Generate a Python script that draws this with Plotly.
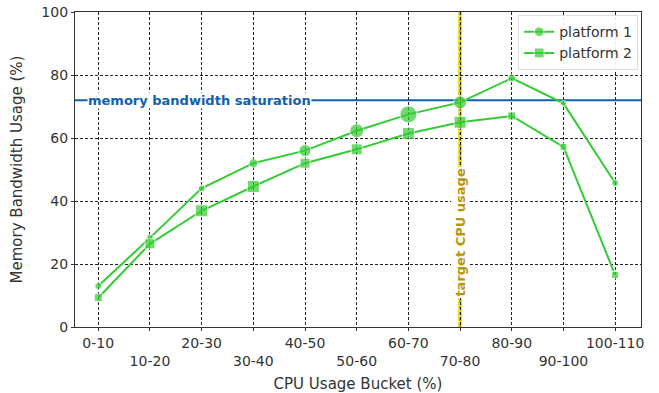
import plotly.graph_objects as go

categories = ["0-10", "10-20", "20-30", "30-40", "40-50", "50-60", "60-70",
              "70-80", "80-90", "90-100", "100-110"]
platform1 = [13.0, 28.3, 44.0, 52.0, 56.0, 62.3, 67.5, 71.3, 79.0, 71.0, 45.7]
platform2 = [9.3, 26.4, 36.9, 44.6, 52.0, 56.4, 61.4, 65.0, 67.0, 57.2, 16.5]
platform1_size = [7, 7, 7, 9, 12, 14, 17, 13, 8, 6, 7]
platform2_size = [8, 10, 12, 12, 10, 11, 12, 12, 8, 7, 7]
saturation = 72
target_idx = 7

x = list(range(len(categories)))
ticktext = [c if i % 2 == 0 else "<br>" + c for i, c in enumerate(categories)]

green = "#33cc33"
fig = go.Figure()
fig.add_trace(go.Scatter(x=x, y=platform1, mode="lines+markers", name="platform 1",
                         line=dict(color=green, width=2),
                         marker=dict(symbol="circle", size=platform1_size, color=green)))
fig.add_trace(go.Scatter(x=x, y=platform2, mode="lines+markers", name="platform 2",
                         line=dict(color=green, width=2),
                         marker=dict(symbol="square", size=platform2_size, color=green)))

# saturation line
fig.add_shape(type="line", xref="paper", x0=0, x1=1, yref="y", y0=saturation, y1=saturation,
              line=dict(color="#1060b0", width=2), layer="below")
fig.add_annotation(x=1.95, y=saturation, text="<b>memory bandwidth saturation</b>",
                   showarrow=False, font=dict(color="#1060b0", size=13, family="DejaVu Sans"),
                   bgcolor="white", borderpad=0)
# target line
fig.add_shape(type="line", x0=target_idx, x1=target_idx, yref="paper", y0=0, y1=1,
              line=dict(color="#e8e020", width=4), layer="below")
fig.add_shape(type="line", x0=target_idx, x1=target_idx, yref="paper", y0=0, y1=1,
              line=dict(color="#a09000", width=1.2, dash="dot"), layer="below")
fig.add_annotation(x=target_idx, y=30, text="<b>target CPU usage</b>", textangle=-90,
                   showarrow=False, font=dict(color="#b8960c", size=13, family="DejaVu Sans"),
                   bgcolor="white", borderpad=1)

fig.update_layout(
    width=659, height=393,
    margin=dict(l=75, r=18, t=12, b=66),
    paper_bgcolor="white", plot_bgcolor="white",
    font=dict(family="DejaVu Sans", size=14, color="#333333"),
    showlegend=True,
    legend=dict(x=0.995, y=0.99, xanchor="right", yanchor="top",
                bgcolor="rgba(255,255,255,0.9)", bordercolor="#dddddd", borderwidth=1,
                font=dict(size=14), tracegroupgap=4),
)
fig.update_xaxes(range=[-0.45, 10.5], tickvals=x, ticktext=ticktext, tickangle=0,
                 automargin=False,
                 title=dict(text="CPU Usage Bucket (%)", font=dict(size=15), standoff=10),
                 showgrid=True, gridcolor="#222222", griddash="3px,2px", gridwidth=0.8,
                 showline=True, linecolor="#333333", mirror=True, linewidth=1.2,
                 ticks="outside", ticklen=3, tickcolor="#333333", zeroline=False)
fig.update_yaxes(range=[0, 100], tickvals=[0, 20, 40, 60, 80, 100], automargin=False,
                 title=dict(text="Memory Bandwidth Usage (%)", font=dict(size=15)),
                 showgrid=True, gridcolor="#222222", griddash="3px,2px", gridwidth=0.8,
                 showline=True, linecolor="#333333", mirror=True, linewidth=1.2,
                 ticks="outside", ticklen=3, tickcolor="#333333", zeroline=False)

fig.write_html("out.html", config={"displayModeBar": False},
               post_script="document.body.style.margin='0';document.body.style.overflow='hidden';")
